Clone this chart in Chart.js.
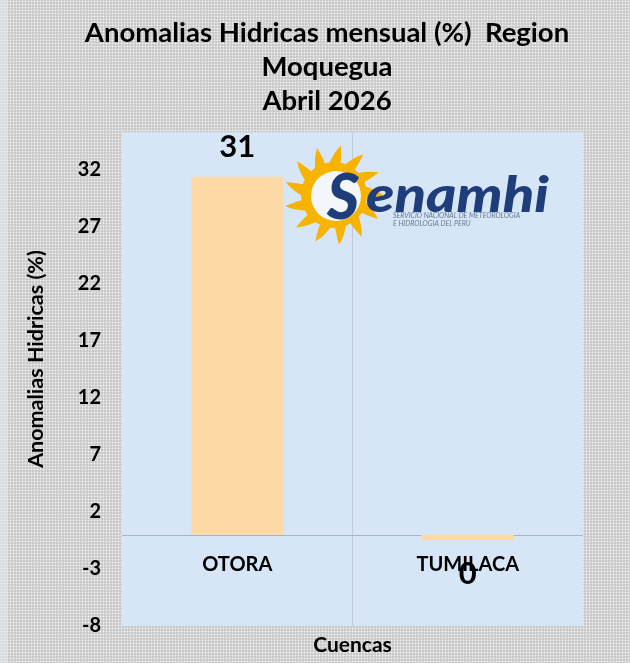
<!DOCTYPE html>
<html><head><meta charset="utf-8">
<script src="https://cdn.jsdelivr.net/npm/chart.js@4/dist/chart.umd.min.js"></script>
<style>
html,body{margin:0;padding:0;}
body{width:630px;height:663px;overflow:hidden;background-color:#c9c9c9;background-image:radial-gradient(circle,#f4f4f4 0.8px,transparent 1.1px);background-size:3px 3px;}
#wrap{position:relative;width:630px;height:663px;}
#edge{position:absolute;left:0;top:0;width:8px;height:663px;background:#e4e9ef;opacity:0.6;}
canvas{position:absolute;left:0;top:0;}
</style></head><body><div id="wrap"><div id="edge"></div><canvas id="c" width="630" height="663"></canvas></div>
<script>
const categories = ['OTORA', 'TUMILACA'];
const anomalias = [31.4, -0.45];
const yTickValues = [-8, -3, 2, 7, 12, 17, 22, 27, 32];
const titleLines = ['Anomalias Hidricas mensual (%)  Region', 'Moquegua', 'Abril 2026'];
const yTitle = 'Anomalias Hidricas (%)';
const xTitle = 'Cuencas';

const FONT = 'Lato, "Open Sans", sans-serif';

function drawLogo(ctx, cx, cy) {
  ctx.save();
  ctx.fillStyle = '#f6b300';
  const n = 13;
  for (let i = 0; i < n; i++) {
    const a = -Math.PI / 2 + i * 2 * Math.PI / n;
    const r1 = 29, r2 = 50, w = 0.2;
    ctx.beginPath();
    ctx.moveTo(cx + r1 * Math.cos(a - w), cy + r1 * Math.sin(a - w));
    ctx.quadraticCurveTo(cx + r2 * 0.85 * Math.cos(a - 0.02), cy + r2 * 0.85 * Math.sin(a - 0.02),
                         cx + r2 * Math.cos(a + 0.14), cy + r2 * Math.sin(a + 0.14));
    ctx.quadraticCurveTo(cx + r2 * 0.7 * Math.cos(a + 0.22), cy + r2 * 0.7 * Math.sin(a + 0.22),
                         cx + r1 * Math.cos(a + w), cy + r1 * Math.sin(a + w));
    ctx.closePath();
    ctx.fill();
  }
  ctx.beginPath(); ctx.arc(cx, cy, 33, 0, Math.PI * 2); ctx.fill();
  ctx.fillStyle = '#f3f7fc';
  ctx.beginPath(); ctx.arc(cx + 2, cy + 1, 25, 0, Math.PI * 2); ctx.fill();
  ctx.fillStyle = '#1f3d7a';
  ctx.textAlign = 'left';
  ctx.textBaseline = 'alphabetic';
  ctx.font = 'italic 900 62px ' + FONT;
  ctx.fillText('S', cx - 7, 219);
  ctx.save();
  ctx.translate(cx + 32, 212);
  ctx.scale(1.16, 1);
  ctx.font = 'italic 900 50px ' + FONT;
  ctx.fillText('enamhi', 0, 0);
  ctx.restore();
  ctx.fillStyle = '#6a7896';
  ctx.font = 'italic 7px ' + FONT;
  ctx.fillText('SERVICIO NACIONAL DE METEOROLOGIA', 393, 218, 164);
  ctx.fillText('E HIDROLOGIA DEL PERU', 393, 226, 100);
  ctx.restore();
}

const decor = {
  id: 'decor',
  beforeDraw(chart) {
    const {ctx, chartArea: a} = chart;
    ctx.save();
    ctx.fillStyle = '#d6e6f6';
    ctx.fillRect(a.left, a.top, a.right - a.left, a.bottom - a.top);
    ctx.restore();
  },
  beforeDatasetsDraw(chart) {
    const {ctx, chartArea: a, scales} = chart;
    const y0 = Math.round(scales.y.getPixelForValue(0)) + 0.5;
    ctx.save();
    ctx.strokeStyle = '#a9b5c2';
    ctx.lineWidth = 1;
    ctx.beginPath(); ctx.moveTo(a.left, y0); ctx.lineTo(a.right, y0); ctx.stroke();
    ctx.restore();
  },
  afterDatasetsDraw(chart) {
    const {ctx, scales} = chart;
    const y0 = scales.y.getPixelForValue(0);
    ctx.save();
    ctx.fillStyle = '#000';
    ctx.textAlign = 'center';
    ctx.textBaseline = 'middle';
    ctx.font = 'bold 20px ' + FONT;
    categories.forEach((c, i) => {
      ctx.fillText(c, scales.x.getPixelForValue(i), y0 + 30);
    });
    ctx.save();
    ctx.translate(36, 359);
    ctx.rotate(-Math.PI / 2);
    ctx.font = 'bold 21.5px ' + FONT;
    ctx.fillText(yTitle, 0, 0);
    ctx.restore();
    ctx.restore();
    drawLogo(ctx, 334, 195);
    ctx.save();
    ctx.fillStyle = '#000';
    ctx.textAlign = 'center';
    ctx.textBaseline = 'middle';
    ctx.font = 'bold 31px ' + FONT;
    const meta = chart.getDatasetMeta(0);
    meta.data.forEach((bar, i) => {
      const v = anomalias[i];
      let s = String(Math.round(v));
      if (s === '-0') s = '0';
      const y = v >= 0 ? bar.y - 30 : bar.y + 34;
      ctx.fillText(s, bar.x, y);
    });
    ctx.restore();
  }
};

new Chart(document.getElementById('c'), {
  type: 'bar',
  data: {
    labels: categories,
    datasets: [{
      data: anomalias,
      backgroundColor: '#fdd9a7',
      borderWidth: 0,
      barPercentage: 0.4,
      categoryPercentage: 1.0
    }]
  },
  options: {
    responsive: false,
    devicePixelRatio: 1,
    animation: false,
    layout: {padding: {left: 24, right: 0, top: 0, bottom: 0}},
    plugins: {
      legend: {display: false},
      tooltip: {enabled: false},
      title: {
        display: true,
        text: titleLines,
        color: '#000',
        font: {family: FONT, size: 27.5, weight: 'bold', lineHeight: 1.24},
        padding: {top: 16, bottom: 14}
      }
    },
    scales: {
      x: {
        offset: true,
        grid: {
          offset: true,
          drawTicks: false,
          color: (ctx) => ctx.index === 1 ? '#c3ccd6' : 'rgba(0,0,0,0)'
        },
        border: {display: false},
        ticks: {display: false},
        title: {
          display: true, text: xTitle, color: '#000',
          font: {family: FONT, size: 21, weight: 'bold', lineHeight: 1.2},
          padding: {top: 0, bottom: 5}
        },
        afterFit(scale) { scale.height = 37; }
      },
      y: {
        min: -8,
        max: 35.3,
        afterBuildTicks(scale) { scale.ticks = yTickValues.map(v => ({value: v})); },
        grid: {display: false, drawTicks: false},
        border: {display: false},
        ticks: {
          color: '#000', padding: 21,
          font: {family: FONT, size: 20, weight: 'bold'}
        },
        afterFit(scale) { scale.width = 98; }
      },
      yR: {
        position: 'right',
        display: true,
        grid: {display: false, drawTicks: false},
        border: {display: false},
        ticks: {display: false},
        afterFit(scale) { scale.width = 47; }
      }
    }
  },
  plugins: [decor]
});
</script></body></html>
